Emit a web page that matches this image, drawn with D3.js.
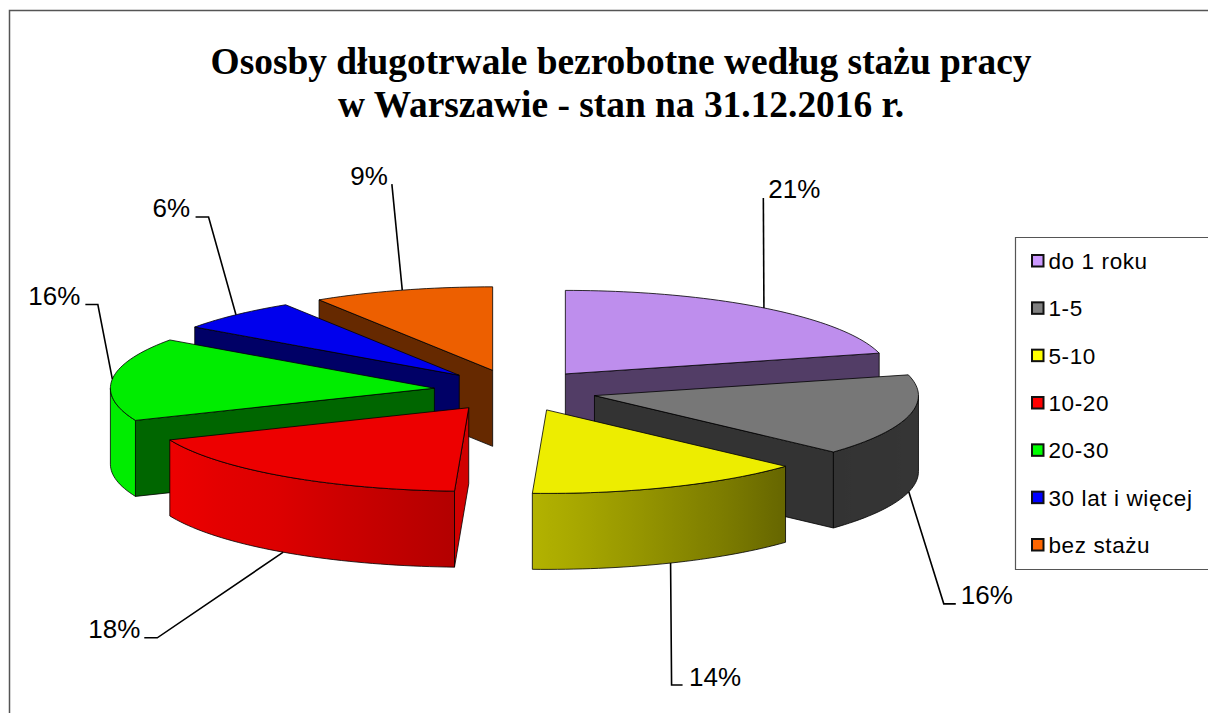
<!DOCTYPE html>
<html lang="pl">
<head>
<meta charset="utf-8">
<script src="https://cdn.jsdelivr.net/npm/d3@7"></script>
<style>
html,body{margin:0;padding:0;background:#fff;overflow:hidden}
svg{display:block}
</style>
</head>
<body>
<svg id="c" width="1208" height="713"></svg>
<script>
// ---- data ----
const categories = ["do 1 roku","1-5","5-10","10-20","20-30","30 lat i więcej","bez stażu"];
const shares = [21.0,15.8,13.9,18.0,16.1,6.2,9.0];
const titleLines = ["Ososby długotrwale bezrobotne według stażu pracy","w Warszawie - stan na 31.12.2016 r."];

// ---- styles ----
const baseColors = ["#cc99ff","#808080","#ffff00","#ff0000","#00ff00","#0000ff","#ff6600"];
const drawOrder = [0,6,5,4,1,2,3];
// leader-line elbow and label placement, offset from each slice's label anchor
const elbowOffsets = [[-0.6,-110],[35,112],[1,122],[-126,85.6],[-14.5,-74.5],[-27.4,-97.8],[-10.4,-106]];
const stubs = [0,12,11,-13,-12.5,-13,0];
const labelOffsets = [5,5,6.5,-4,-5,-5.5,-4];
const anchors = ["start","start","start","end","end","end","end"];

const cx=515.4, cy=390.5, rx=324, ry=83.5, depth=76, explode=81.5;
const rad = Math.PI/180;

const svg = d3.select("#c");
const defs = svg.append("defs");

// page frame
svg.append("path").attr("d","M9.5,713V10.5H1208").attr("fill","none").attr("stroke","#555").attr("stroke-width",1.5);

// title
svg.append("text").attr("font-family","'Liberation Serif'").attr("font-weight","bold")
  .attr("font-size",37.4).attr("text-anchor","middle").attr("fill","#000")
  .selectAll("tspan").data(titleLines).join("tspan")
  .attr("x",621).attr("y",(d,i)=>73.5+i*43).text(d=>d);

// pie geometry
const pieGen = d3.pie().sort(null).value(d=>d);
const arcs = pieGen(shares);
const pt = (c,t,z=0)=>[c[0]+rx*Math.sin(t), c[1]-ry*Math.cos(t)+z];
const line = d3.line();
const arcPts = (c,a,b,z=0)=>{
  const n = Math.max(2,Math.ceil(Math.abs(b-a)/(rad*1.5)));
  return d3.range(n+1).map(i=>pt(c,a+(b-a)*i/n,z));
};
const shadeScale = d3.scaleLinear().domain([90,133,182,215,247,270]).range([.42,.4,.7,.86,.93,.93]);
const scaleColor = (col,f)=>{const c=d3.rgb(col);return d3.rgb(c.r*f,c.g*f,c.b*f).formatHex();};

const sliceData = arcs.map((a,i)=>{
  const mid=(a.startAngle+a.endAngle)/2;
  const c=[cx+explode*Math.sin(mid), cy-explode*(ry/rx)*Math.cos(mid)];
  return {i,a,mid,c,col:baseColors[i]};
});

const pies = svg.append("g").attr("stroke","#000").attr("stroke-width",.8).attr("stroke-linejoin","round");
drawOrder.forEach(idx=>{
  const s=sliceData[idx], {a,c,col}=s, g=pies.append("g");
  const radial=t=>{
    const p=pt(c,t);
    g.append("path").attr("d",line([c,p,[p[0],p[1]+depth],[c[0],c[1]+depth]])+"Z")
      .attr("fill",scaleColor(col,Math.sin(t)>0?.4:(t<rad*200?.82:.4)));
  };
  // radial walls that face the viewer
  if(Math.sin(a.startAngle)<0) radial(a.startAngle);
  if(Math.sin(a.endAngle)>0) radial(a.endAngle);
  // outer rim
  const r0=Math.max(a.startAngle,90*rad), r1=Math.min(a.endAngle,270*rad);
  if(r1>r0){
    const top=arcPts(c,r0,r1), bot=arcPts(c,r0,r1,depth).reverse();
    const xs=top.map(p=>p[0]), xa=d3.min(xs), xb=d3.max(xs);
    const id="rim"+idx;
    const grad=defs.append("linearGradient").attr("id",id).attr("gradientUnits","userSpaceOnUse")
      .attr("x1",xa).attr("x2",xb).attr("y1",0).attr("y2",0);
    const stops=d3.range(17).map(k=>{
      const t=r0+(r1-r0)*k/16, x=pt(c,t)[0];
      return {o:(x-xa)/(xb-xa||1),f:shadeScale(t/rad)};
    }).sort((m,n)=>m.o-n.o);
    grad.selectAll("stop").data(stops).join("stop")
      .attr("offset",d=>d.o).attr("stop-color",d=>scaleColor(col,d.f));
    g.append("path").attr("d",line(top.concat(bot))+"Z").attr("fill",`url(#${id})`);
  }
  // top face
  g.append("path").attr("d",line([c].concat(arcPts(c,a.startAngle,a.endAngle)))+"Z")
    .attr("fill",scaleColor(col,.93));
});

// leaders and labels
const lab = svg.append("g");
sliceData.forEach(s=>{
  const onRim = Math.cos(s.mid)<0;
  const p0=pt(s.c,s.mid,onRim?depth:0);
  const e=elbowOffsets[s.i];
  const p1=[p0[0]+e[0],p0[1]+e[1]];
  const p2=[p1[0]+stubs[s.i],p1[1]];
  lab.append("path").attr("d",line([p0,p1,p2])).attr("fill","none").attr("stroke","#000").attr("stroke-width",1.6);
  lab.append("text").attr("x",p2[0]+labelOffsets[s.i]).attr("y",p2[1]+.5)
    .attr("text-anchor",anchors[s.i])
    .attr("font-family","'Liberation Sans'").attr("font-size",26).attr("fill","#000")
    .text(d3.format(".0f")(s.a.value)+"%");
});

// legend
const legend = svg.append("g");
legend.append("path").attr("d","M1208,237.5H1015.5V569.5H1208").attr("fill","#fff").attr("stroke","#555").attr("stroke-width",1.2);
const legendY = d3.scalePoint().domain(categories).range([261,545]);
const rows = legend.selectAll("g").data(categories).join("g").attr("transform",d=>`translate(0,${legendY(d)})`);
rows.append("rect").attr("x",1032).attr("y",-6).attr("width",11.5).attr("height",11.5)
  .attr("fill",(d,i)=>baseColors[i]).attr("stroke","#111").attr("stroke-width",2);
rows.append("text").attr("x",1048.5).attr("y",8).attr("font-family","'Liberation Sans'")
  .attr("font-size",22.5).attr("letter-spacing",.6).attr("fill","#000").text(d=>d);
</script>
</body>
</html>
